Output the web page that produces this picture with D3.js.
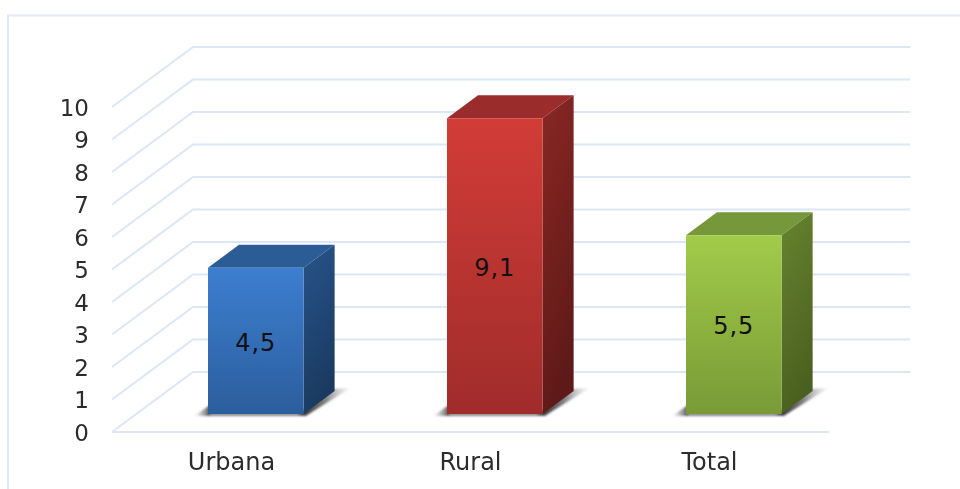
<!DOCTYPE html>
<html>
<head>
<meta charset="utf-8">
<script src="https://d3js.org/d3.v7.min.js"></script>
<style>
  html, body { margin: 0; padding: 0; background: #fff; overflow: hidden; }
  svg { display: block; }
  text { font-family: "DejaVu Sans", Verdana, sans-serif; fill: #2c2c2c; }
</style>
</head>
<body>
<svg></svg>
<script>
var width = 960;
var height = 489;

var categories = ["Urbana", "Rural", "Total"];
var values = [4.5, 9.1, 5.5];
var labels = ["4,5", "9,1", "5,5"];
var yTicks = [0, 1, 2, 3, 4, 5, 6, 7, 8, 9, 10];
var frontColors = [["#3d7ed0", "#2b5e9d"], ["#d23c37", "#a02c2b"], ["#a2cb4a", "#799a36"]];
var topColors = ["#2c5c96", "#9a2d2b", "#76973a"];
var sideColors = [["#28548a", "#1a3a60"], ["#8a2724", "#5e1a18"], ["#67842f", "#4a6020"]];

var svg = d3.select("svg")
    .attr("width", width)
    .attr("height", height);

var defs = svg.append("defs");
var g = svg.append("g").style("filter", "blur(0.45px)");

// the floor runs from the front plane to the back wall
var depth = { x: 81, y: -60 };
var barFront = 0.3;
var barBack = 0.683;

var x = d3.scaleBand()
    .domain(categories)
    .range([112, 829])
    .paddingInner(0.6)
    .paddingOuter(0.3);

var y = d3.scaleLinear()
    .domain([0, 10])
    .range([432, 107]);

function gradient(id, colors, x2, y2) {
  var gr = defs.append("linearGradient")
      .attr("id", id)
      .attr("x1", 0).attr("y1", 0)
      .attr("x2", x2).attr("y2", y2);
  colors.forEach(function(c, i) {
    var stop = gr.append("stop").attr("offset", i / (colors.length - 1));
    if (Array.isArray(c)) stop.attr("stop-color", c[0]).attr("stop-opacity", c[1]);
    else stop.attr("stop-color", c);
  });
}

gradient("shadow-right", [["#111", 0.95], ["#444", 0.7], ["#999", 0.05]], 1, 0);
gradient("shadow-left", [["#777", 0], ["#333", 0.85]], 1, 0);
categories.forEach(function(c, i) {
  gradient("front-" + i, frontColors[i], 0, 1);
  gradient("side-" + i, sideColors[i], 0.25, 1);
});

defs.append("filter")
    .attr("id", "soft")
    .append("feGaussianBlur")
    .attr("stdDeviation", 0.8);

// frame
g.append("path")
    .attr("d", "M8," + height + "V15.5H" + width)
    .attr("fill", "none")
    .attr("stroke", "#e1eaf6")
    .attr("stroke-width", 2);

// grid on the left wall and the back wall
var line = d3.line();
g.selectAll(".grid")
    .data(yTicks)
    .enter().append("path")
    .attr("class", "grid")
    .attr("fill", "none")
    .attr("stroke", "#dce7f6")
    .attr("stroke-width", 2)
    .attr("d", function(d) {
      var y0 = y(d), x0 = x.range()[0], x1 = x.range()[1];
      return line([[x0, y0], [x0 + depth.x, y0 + depth.y], [x1 + depth.x, y0 + depth.y]]);
    });

g.append("path")
    .attr("fill", "none")
    .attr("stroke", "#dce7f6")
    .attr("stroke-width", 2)
    .attr("d", line([[x.range()[0], y(0)], [x.range()[1], y(0)]]));

var bar = g.selectAll(".bar")
    .data(categories)
    .enter().append("g")
    .attr("class", "bar");

function corners(d, i) {
  var left = x(d) + depth.x * barFront;
  var right = left + x.bandwidth();
  var base = y(0) + depth.y * barFront;
  var top = base - (y(0) - y(values[i]));
  var dx = depth.x * (barBack - barFront);
  var dy = depth.y * (barBack - barFront);
  return { left: left, right: right, base: base, top: top, dx: dx, dy: dy };
}

// shadows on the floor
var shadow = bar.append("g").attr("filter", "url(#soft)");
shadow.append("path")
    .attr("fill", "url(#shadow-right)")
    .attr("d", function(d, i) {
      var c = corners(d, i);
      return line([[c.right - 6, c.base + 1], [c.right + c.dx - 4, c.base + c.dy - 2],
                   [c.right + c.dx + 16, c.base + c.dy - 3], [c.right + 2, c.base + 2]]) + "Z";
    });
shadow.append("path")
    .attr("fill", "url(#shadow-left)")
    .attr("d", function(d, i) {
      var c = corners(d, i);
      return line([[c.left - 14, c.base + 2], [c.left + 2, c.base - 9],
                   [c.left + 2, c.base + 2]]) + "Z";
    });
shadow.append("rect")
    .attr("x", function(d, i) { return corners(d, i).left; })
    .attr("y", function(d, i) { return corners(d, i).base - 1; })
    .attr("width", x.bandwidth())
    .attr("height", 3)
    .attr("fill", "#555")
    .attr("opacity", 0.7);

bar.append("path")
    .attr("fill", function(d, i) { return topColors[i]; })
    .attr("d", function(d, i) {
      var c = corners(d, i);
      return line([[c.left, c.top], [c.left + c.dx, c.top + c.dy],
                   [c.right + c.dx, c.top + c.dy], [c.right, c.top]]) + "Z";
    });

bar.append("path")
    .attr("fill", function(d, i) { return "url(#side-" + i + ")"; })
    .attr("d", function(d, i) {
      var c = corners(d, i);
      return line([[c.right, c.top], [c.right + c.dx, c.top + c.dy],
                   [c.right + c.dx, c.base + c.dy], [c.right, c.base]]) + "Z";
    });

bar.append("rect")
    .attr("x", function(d, i) { return corners(d, i).left; })
    .attr("y", function(d, i) { return corners(d, i).top; })
    .attr("width", x.bandwidth())
    .attr("height", function(d, i) { var c = corners(d, i); return c.base - c.top; })
    .attr("fill", function(d, i) { return "url(#front-" + i + ")"; });

bar.append("text")
    .attr("x", function(d, i) { return corners(d, i).left + x.bandwidth() / 2; })
    .attr("y", function(d, i) { var c = corners(d, i); return (c.top + c.base) / 2 + 1; })
    .attr("dy", "0.36em")
    .attr("text-anchor", "middle")
    .style("font-size", "24px")
    .style("letter-spacing", "1px")
    .style("fill", "#111")
    .text(function(d, i) { return labels[i]; });

// axes
var yAxis = d3.axisLeft(y)
    .tickValues(yTicks)
    .tickSize(0)
    .tickPadding(23);

var yG = g.append("g")
    .attr("transform", "translate(112,1)")
    .call(yAxis);
yG.select(".domain").remove();
yG.selectAll("text").style("font-size", "23px");

var xAxis = d3.axisBottom(x)
    .tickSize(0)
    .tickPadding(21);

var xG = g.append("g")
    .attr("transform", "translate(0," + y(0) + ")")
    .call(xAxis);
xG.select(".domain").remove();
xG.selectAll("text").style("font-size", "24px");
</script>
</body>
</html>
